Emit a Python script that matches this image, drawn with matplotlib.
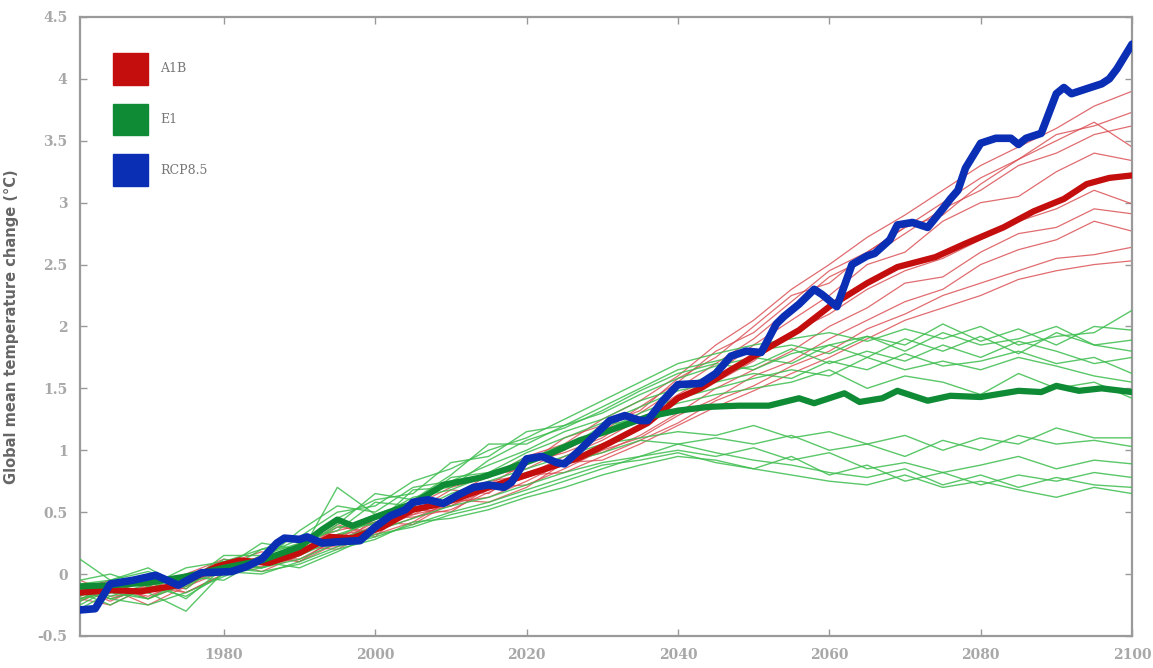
import matplotlib
matplotlib.use("Agg")
import matplotlib.pyplot as plt
from matplotlib.patches import Patch

# Ensemble members share one coarse year grid
member_years = [1961, 1965, 1970, 1975, 1980, 1985, 1990, 1995, 2000, 2005,
                2010, 2015, 2020, 2025, 2030, 2035, 2040, 2045, 2050, 2055,
                2060, 2065, 2070, 2075, 2080, 2085, 2090, 2095, 2100]

# A1B individual runs (thin red)
a1b_members = [
    [-0.05, -0.15, -0.10, 0.00, 0.12, 0.08, 0.25, 0.35, 0.42, 0.55, 0.70, 0.78, 0.95, 1.05, 1.25,
     1.40, 1.60, 1.85, 2.05, 2.30, 2.50, 2.72, 2.90, 3.10, 3.30, 3.45, 3.60, 3.78, 3.90],
    [-0.20, -0.10, -0.18, -0.05, 0.02, 0.15, 0.12, 0.28, 0.45, 0.48, 0.62, 0.80, 0.85, 1.00, 1.15,
     1.35, 1.55, 1.80, 1.95, 2.20, 2.45, 2.60, 2.80, 3.00, 3.20, 3.35, 3.55, 3.62, 3.73],
    [-0.12, -0.22, -0.08, -0.12, 0.10, 0.05, 0.20, 0.40, 0.30, 0.58, 0.55, 0.72, 0.90, 0.98, 1.10,
     1.30, 1.50, 1.70, 1.90, 2.15, 2.40, 2.55, 2.75, 2.95, 3.10, 3.30, 3.40, 3.55, 3.62],
    [-0.18, -0.08, -0.20, -0.02, 0.08, 0.18, 0.10, 0.25, 0.40, 0.50, 0.68, 0.65, 0.88, 1.10, 1.20,
     1.32, 1.58, 1.75, 2.00, 2.25, 2.35, 2.60, 2.80, 2.90, 3.15, 3.35, 3.50, 3.65, 3.45],
    [-0.10, -0.15, -0.05, -0.15, 0.00, 0.12, 0.22, 0.20, 0.35, 0.45, 0.58, 0.75, 0.80, 0.95, 1.08,
     1.25, 1.45, 1.62, 1.85, 2.05, 2.25, 2.50, 2.60, 2.85, 3.00, 3.05, 3.25, 3.40, 3.34],
    [-0.15, -0.20, -0.12, -0.08, 0.10, 0.02, 0.15, 0.32, 0.36, 0.48, 0.55, 0.68, 0.78, 0.88, 1.05,
     1.20, 1.40, 1.55, 1.72, 1.95, 2.10, 2.30, 2.45, 2.55, 2.70, 2.85, 2.95, 3.10, 2.99],
    [-0.22, -0.12, -0.25, -0.10, 0.02, 0.10, 0.20, 0.26, 0.42, 0.40, 0.58, 0.62, 0.75, 0.90, 0.98,
     1.12, 1.30, 1.50, 1.65, 1.80, 2.00, 2.15, 2.35, 2.40, 2.60, 2.75, 2.80, 2.95, 2.91],
    [-0.08, -0.18, -0.15, -0.02, 0.06, 0.12, 0.18, 0.38, 0.34, 0.52, 0.50, 0.70, 0.72, 0.85, 1.00,
     1.10, 1.28, 1.42, 1.60, 1.72, 1.90, 2.05, 2.20, 2.30, 2.50, 2.62, 2.70, 2.85, 2.77],
    [-0.12, -0.05, -0.20, -0.08, 0.04, 0.06, 0.22, 0.22, 0.45, 0.46, 0.52, 0.66, 0.80, 0.82, 0.95,
     1.08, 1.22, 1.40, 1.52, 1.68, 1.80, 1.98, 2.10, 2.25, 2.35, 2.45, 2.55, 2.58, 2.64],
    [-0.20, -0.25, -0.10, -0.15, 0.00, 0.14, 0.10, 0.30, 0.32, 0.42, 0.60, 0.58, 0.70, 0.90, 0.92,
     1.05, 1.20, 1.35, 1.48, 1.62, 1.75, 1.90, 2.05, 2.15, 2.25, 2.38, 2.45, 2.50, 2.53],
]

# E1 individual runs (thin green)
e1_members = [
    [-0.05, 0.00, -0.10, 0.05, 0.10, 0.20, 0.30, 0.50, 0.55, 0.75, 0.85, 1.00, 1.10, 1.25, 1.40,
     1.55, 1.70, 1.78, 1.85, 1.90, 1.95, 1.88, 1.98, 1.90, 2.00, 1.85, 1.92, 1.95, 2.13],
    [0.12, -0.05, 0.02, -0.08, 0.15, 0.15, 0.25, 0.45, 0.60, 0.65, 0.90, 0.95, 1.15, 1.20, 1.35,
     1.50, 1.65, 1.72, 1.80, 1.85, 1.78, 1.92, 1.85, 2.02, 1.88, 1.98, 1.85, 2.00, 1.97],
    [-0.15, -0.10, 0.00, -0.05, 0.05, 0.25, 0.20, 0.40, 0.65, 0.60, 0.80, 1.05, 1.05, 1.20, 1.30,
     1.45, 1.58, 1.68, 1.75, 1.70, 1.85, 1.75, 1.90, 1.80, 1.92, 1.78, 1.95, 1.85, 1.89],
    [-0.20, -0.15, -0.05, -0.10, 0.10, 0.10, 0.35, 0.55, 0.50, 0.70, 0.75, 0.88, 1.00, 1.15, 1.25,
     1.40, 1.50, 1.62, 1.68, 1.82, 1.70, 1.80, 1.72, 1.85, 1.75, 1.88, 1.80, 1.70, 1.75],
    [-0.10, -0.20, -0.12, 0.00, 0.00, 0.15, 0.28, 0.35, 0.58, 0.55, 0.78, 0.82, 0.98, 1.10, 1.22,
     1.35, 1.48, 1.55, 1.62, 1.58, 1.72, 1.65, 1.78, 1.68, 1.72, 1.80, 1.70, 1.75, 1.62],
    [-0.25, -0.12, -0.20, -0.05, 0.08, 0.05, 0.18, 0.30, 0.45, 0.62, 0.68, 0.80, 0.92, 1.05, 1.15,
     1.30, 1.42, 1.50, 1.58, 1.65, 1.60, 1.75, 1.65, 1.72, 1.65, 1.75, 1.68, 1.60, 1.55],
    [-0.08, -0.05, 0.05, -0.12, 0.12, 0.05, 0.15, 0.70, 0.48, 0.58, 0.72, 0.78, 0.95, 1.00, 1.20,
     1.25, 1.38, 1.45, 1.50, 1.55, 1.65, 1.50, 1.60, 1.55, 1.45, 1.62, 1.50, 1.55, 1.42],
    [-0.18, -0.08, -0.15, -0.30, 0.02, 0.20, 0.22, 0.38, 0.40, 0.68, 0.70, 0.92, 1.08, 1.18, 1.32,
     1.48, 1.62, 1.70, 1.65, 1.78, 1.85, 1.92, 1.80, 1.95, 1.85, 1.90, 2.00, 1.85, 1.80],
    [-0.12, -0.18, -0.08, -0.05, 0.05, 0.08, 0.20, 0.32, 0.42, 0.50, 0.65, 0.75, 0.85, 0.95, 1.05,
     1.10, 1.15, 1.12, 1.20, 1.10, 1.15, 1.05, 1.12, 1.00, 1.10, 1.05, 1.18, 1.10, 1.10],
    [-0.22, -0.10, -0.15, -0.02, -0.05, 0.12, 0.15, 0.28, 0.38, 0.52, 0.60, 0.70, 0.82, 0.90, 0.98,
     1.08, 1.05, 1.10, 1.05, 1.12, 1.00, 1.05, 0.95, 1.08, 1.00, 1.12, 1.05, 1.08, 1.03],
    [-0.15, -0.25, -0.10, -0.18, 0.00, 0.05, 0.12, 0.25, 0.35, 0.45, 0.55, 0.62, 0.72, 0.82, 0.90,
     0.95, 1.00, 0.95, 1.02, 0.92, 0.98, 0.85, 0.90, 0.82, 0.88, 0.95, 0.85, 0.92, 0.89],
    [-0.28, -0.15, -0.20, -0.08, 0.02, 0.00, 0.10, 0.22, 0.30, 0.40, 0.50, 0.58, 0.68, 0.78, 0.88,
     0.92, 0.98, 0.90, 0.85, 0.95, 0.80, 0.88, 0.75, 0.82, 0.72, 0.80, 0.75, 0.82, 0.78],
    [-0.10, -0.20, -0.25, -0.15, -0.02, 0.10, 0.05, 0.18, 0.32, 0.38, 0.48, 0.55, 0.65, 0.75, 0.85,
     0.95, 1.05, 0.98, 0.92, 0.88, 0.82, 0.78, 0.85, 0.72, 0.80, 0.70, 0.78, 0.72, 0.70],
    [-0.20, -0.12, -0.05, -0.20, 0.05, 0.02, 0.08, 0.20, 0.28, 0.42, 0.45, 0.52, 0.62, 0.70, 0.80,
     0.88, 0.95, 0.92, 0.85, 0.80, 0.75, 0.72, 0.80, 0.70, 0.75, 0.68, 0.62, 0.70, 0.65],
]

# A1B ensemble mean (thick red)
a1b_mean_years = [1961, 1965, 1969, 1972, 1974, 1977, 1979, 1982, 1986, 1990, 1994, 1997, 2001,
                  2005, 2009, 2014, 2018, 2023, 2027, 2031, 2036, 2040, 2043, 2047, 2052, 2056,
                  2060, 2065, 2069, 2074, 2078, 2083, 2087, 2091, 2094, 2097, 2100]
a1b_mean = [-0.15, -0.13, -0.14, -0.11, -0.09, 0.00, 0.06, 0.11, 0.09, 0.17, 0.30, 0.29, 0.38,
            0.52, 0.57, 0.68, 0.76, 0.86, 0.94, 1.06, 1.22, 1.42, 1.50, 1.65, 1.83, 1.97,
            2.16, 2.35, 2.48, 2.56, 2.67, 2.80, 2.93, 3.03, 3.15, 3.20, 3.22]

# E1 ensemble mean (thick green)
e1_mean_years = [1961, 1965, 1970, 1975, 1980, 1985, 1990, 1993, 1995, 1997, 2000, 2005, 2009,
                 2014, 2018, 2023, 2027, 2031, 2036, 2040, 2044, 2048, 2052, 2056, 2058, 2062,
                 2064, 2067, 2069, 2073, 2076, 2080, 2085, 2088, 2090, 2093, 2096, 2100]
e1_mean = [-0.10, -0.09, -0.07, -0.02, 0.05, 0.11, 0.22, 0.36, 0.44, 0.39, 0.46, 0.57, 0.72,
           0.78, 0.86, 0.97, 1.08, 1.16, 1.27, 1.32, 1.35, 1.36, 1.36, 1.42, 1.38, 1.46,
           1.39, 1.42, 1.48, 1.40, 1.44, 1.43, 1.48, 1.47, 1.52, 1.48, 1.50, 1.47]

# RCP8.5 single run (thick blue)
rcp85_years = [1961, 1963, 1965, 1968, 1971, 1974, 1977, 1981, 1983, 1985, 1987, 1988, 1990,
               1991, 1993, 1995, 1998, 2000, 2002, 2004, 2005, 2007, 2009, 2011, 2013, 2015,
               2017, 2018, 2020, 2022, 2024, 2025, 2027, 2029, 2031, 2033, 2035, 2036, 2038,
               2040, 2043, 2045, 2047, 2049, 2051, 2053, 2054, 2056, 2058, 2059, 2061, 2063,
               2065, 2066, 2068, 2069, 2071, 2073, 2075, 2076, 2077, 2078, 2080, 2082, 2084,
               2085, 2086, 2088, 2090, 2091, 2092, 2094, 2096, 2097, 2098, 2100]
rcp85 = [-0.29, -0.28, -0.08, -0.05, -0.01, -0.09, 0.01, 0.02, 0.06, 0.12, 0.25, 0.29, 0.28,
         0.30, 0.25, 0.26, 0.27, 0.38, 0.47, 0.52, 0.58, 0.60, 0.57, 0.64, 0.70, 0.72,
         0.70, 0.74, 0.93, 0.95, 0.90, 0.89, 1.00, 1.12, 1.24, 1.28, 1.24, 1.24, 1.40,
         1.53, 1.54, 1.62, 1.76, 1.80, 1.79, 2.02, 2.08, 2.18, 2.30, 2.26, 2.16, 2.50,
         2.57, 2.59, 2.70, 2.82, 2.84, 2.80, 2.95, 3.03, 3.10, 3.28, 3.48, 3.52, 3.52,
         3.47, 3.52, 3.56, 3.88, 3.93, 3.88, 3.92, 3.96, 4.00, 4.08, 4.28]

scenario_names = ["A1B", "E1", "RCP8.5"]
scenario_colors = ["#c40d0d", "#0f8a35", "#0a2fb5"]

y_ticks = [-0.5, 0, 0.5, 1, 1.5, 2, 2.5, 3, 3.5, 4, 4.5]
x_ticks = [1980, 2000, 2020, 2040, 2060, 2080, 2100]


def draw_chart():
    """
    Draw the ensemble spaghetti plot with the three scenario means on top.
    """
    fig = plt.figure(figsize=(11.53, 6.68), dpi=100)
    ax = fig.add_axes([0.0694, 0.048, 0.9124, 0.9266])

    # Thin ensemble members first
    for run in a1b_members:
        ax.plot(member_years, run, color="#d9474c", linewidth=0.9, alpha=0.8, zorder=2)
    for run in e1_members:
        ax.plot(member_years, run, color="#3dbd4e", linewidth=1.0, alpha=0.85, zorder=3)

    # Thick means
    ax.plot(a1b_mean_years, a1b_mean, color=scenario_colors[0], linewidth=4.5,
            solid_joinstyle="round", zorder=4)
    ax.plot(e1_mean_years, e1_mean, color=scenario_colors[1], linewidth=4.5,
            solid_joinstyle="round", zorder=5)
    ax.plot(rcp85_years, rcp85, color=scenario_colors[2], linewidth=5.5,
            solid_joinstyle="round", solid_capstyle="round", zorder=6)

    ax.set_xlim(1961, 2100)
    ax.set_ylim(-0.5, 4.5)

    ax.set_xticks(x_ticks)
    ax.set_yticks(y_ticks)
    ax.set_yticklabels(["%g" % v for v in y_ticks])

    tick_grey = "#a8a8a8"
    ax.tick_params(axis="both", direction="in", length=5, width=1, color="#999999",
                   top=True, right=True, labelcolor=tick_grey, labelsize=10, pad=9)
    for label in ax.get_xticklabels() + ax.get_yticklabels():
        label.set_fontfamily("DejaVu Serif")
        label.set_fontweight("bold")

    for spine in ax.spines.values():
        spine.set_color("#9a9a9a")
        spine.set_linewidth(1.6)

    ax.set_ylabel("Global mean temperature change (°C)", fontsize=10.5,
                  fontweight="bold", color="#666666", labelpad=6)
    ax.yaxis.set_label_coords(-0.058, 0.5)

    # Square colour swatches, no frame
    handles = [Patch(facecolor=c, edgecolor=c) for c in scenario_colors]
    legend = ax.legend(handles, scenario_names, loc="upper left",
                       bbox_to_anchor=(0.031, 0.942), frameon=False,
                       handlelength=2.8, handleheight=3.55, labelspacing=1.5,
                       handletextpad=1.0, borderpad=0, borderaxespad=0,
                       prop={"family": "DejaVu Serif", "size": 9})
    for text in legend.get_texts():
        text.set_color("#777777")

    plt.savefig("out.png", dpi=100)
    plt.close()


def main():
    draw_chart()


if __name__ == "__main__":
    main()
